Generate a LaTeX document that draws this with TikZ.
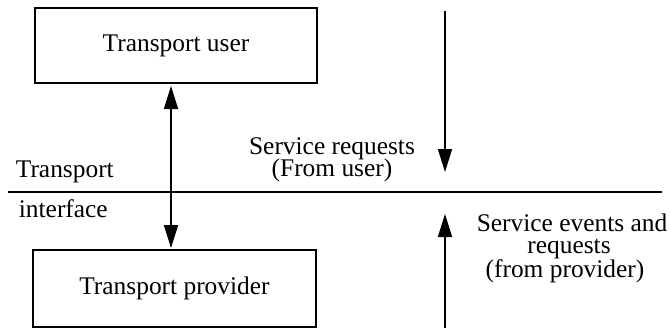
\documentclass[tikz,border=0pt]{standalone}
\usepackage{fontspec}
\setmainfont{Liberation Serif}
\usetikzlibrary{arrows.meta}
\tikzset{
  every picture/.style={line width=1.8bp},
  lbl/.style={inner sep=0pt, anchor=base, font=\fontsize{25.5}{20}\selectfont},
  box/.style={draw, line width=1.8bp, inner sep=0pt, font=\fontsize{25.5}{20}\selectfont},
  arr/.style={-{Triangle[length=23bp,width=14bp]}, line width=1.8bp},
  darr/.style={{Triangle[length=23bp,width=14bp]}-{Triangle[length=23bp,width=14bp]}, line width=1.8bp}
}
\begin{document}
\begin{tikzpicture}[x=1bp,y=-1bp]
\useasboundingbox (0,0) rectangle (671,328);
% boxes
\node[box, minimum width=282bp, minimum height=75bp] (user) at (176,45.5) {Transport user};
\node[box, minimum width=283bp, minimum height=77bp] (prov) at (174.5,288.5) {Transport provider};
% interface line
\coordinate (hl) at (8,192);
\coordinate (hr) at (662,192);
\draw (hl) -- (hr);
% double arrow between boxes
\coordinate (a1) at (171,86);
\coordinate (a2) at (171,248);
\draw[darr] (a1) -- (a2);
% right arrows
\coordinate (d1) at (445,11);
\coordinate (d2) at (445,172);
\draw[arr] (d1) -- (d2);
\coordinate (u1) at (445,328);
\coordinate (u2) at (445,214);
\draw[arr] (u1) -- (u2);
% labels
\node[lbl, anchor=base west] (tr) at (15,177) {Transport};
\node[lbl, anchor=base west] (ifc) at (18,217) {interface};
\node[lbl] (sr1) at (332,154) {Service requests};
\node[lbl] (sr2) at (332,176) {(From user)};
\node[lbl] (se1) at (572,231) {Service events and};
\node[lbl] (se2) at (569,253.5) {requests};
\node[lbl] (se3) at (565,277) {(from provider)};
\end{tikzpicture}
\end{document}
